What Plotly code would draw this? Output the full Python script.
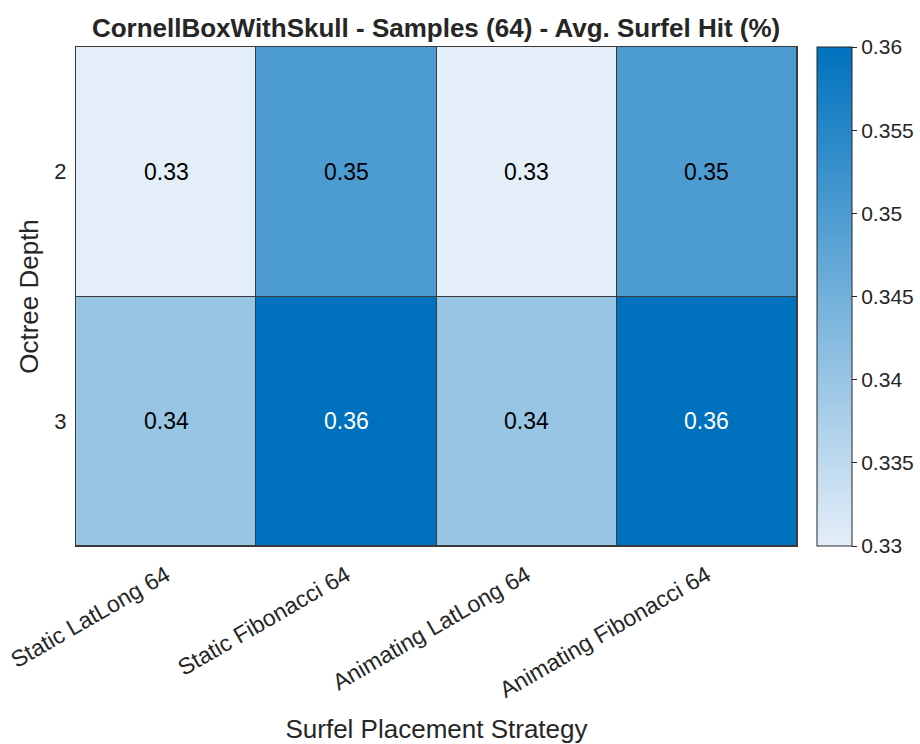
import plotly.graph_objects as go

strategies = ["Static LatLong 64", "Static Fibonacci 64", "Animating LatLong 64", "Animating Fibonacci 64"]
depths = ["2", "3"]
hit_depth2 = [0.33, 0.35, 0.33, 0.35]
hit_depth3 = [0.34, 0.36, 0.34, 0.36]
z = [hit_depth2, hit_depth3]

zmin, zmax = 0.33, 0.36
cbar_ticks = [0.33, 0.335, 0.34, 0.345, 0.35, 0.355, 0.36]
FONT = "Liberation Sans, Arial, sans-serif"
INK = "#262626"

fig = go.Figure(go.Heatmap(
    z=z, x=strategies, y=depths,
    zmin=zmin, zmax=zmax,
    colorscale=[[0, "rgb(228,238,248)"], [1, "rgb(0,114,189)"]],
    xgap=1, ygap=1,
    hoverinfo="skip",
    colorbar=dict(
        x=1.028, xanchor="left", xpad=0, y=0.5, yanchor="middle", ypad=0,
        len=1, lenmode="fraction", thickness=35,
        outlinewidth=1, outlinecolor=INK,
        tickvals=cbar_ticks, ticktext=[f"{v:g}" for v in cbar_ticks],
        ticks="outside", ticklen=5, tickcolor=INK,
        tickfont=dict(size=21, color=INK, family=FONT),
    ),
))

# cell value labels (placed by category index), dark on light cells, white on dark ones
for r, row in enumerate(z):
    for c, v in enumerate(row):
        frac = (v - zmin) / (zmax - zmin)
        fig.add_annotation(
            x=c, y=r, text=f"{v:.2f}", showarrow=False,
            font=dict(size=23, family=FONT, color="white" if frac > 0.8 else "black"),
        )

fig.update_layout(
    width=920, height=744,
    margin=dict(l=76, r=123, t=47, b=198, autoexpand=False),
    paper_bgcolor="white", plot_bgcolor="#3a3a3a",
    title=dict(text="<b>CornellBoxWithSkull - Samples (64) - Avg. Surfel Hit (%)</b>",
               x=0.474, xanchor="center", y=0.963, yanchor="middle",
               font=dict(size=26, family=FONT, color=INK)),
    font=dict(family=FONT, color=INK),
)
fig.update_xaxes(
    type="category", range=[-0.5, len(strategies) - 0.5],
    tickangle=-30, tickfont=dict(size=23, color=INK), ticks="",
    ticklabelstandoff=6,
    showgrid=False, automargin=False,
    showline=True, linecolor="#3a3a3a", linewidth=1, mirror=True,
    title=dict(text="Surfel Placement Strategy", font=dict(size=26, color=INK), standoff=20),
)
fig.update_yaxes(
    type="category", range=[len(depths) - 0.5, -0.5],
    tickfont=dict(size=22, color=INK), ticks="",
    showgrid=False, automargin=False, ticklabelstandoff=4,
    showline=True, linecolor="#3a3a3a", linewidth=1, mirror=True,
    title=dict(text="Octree Depth", font=dict(size=26, color=INK), standoff=8),
)

fig.write_html("out.html")
